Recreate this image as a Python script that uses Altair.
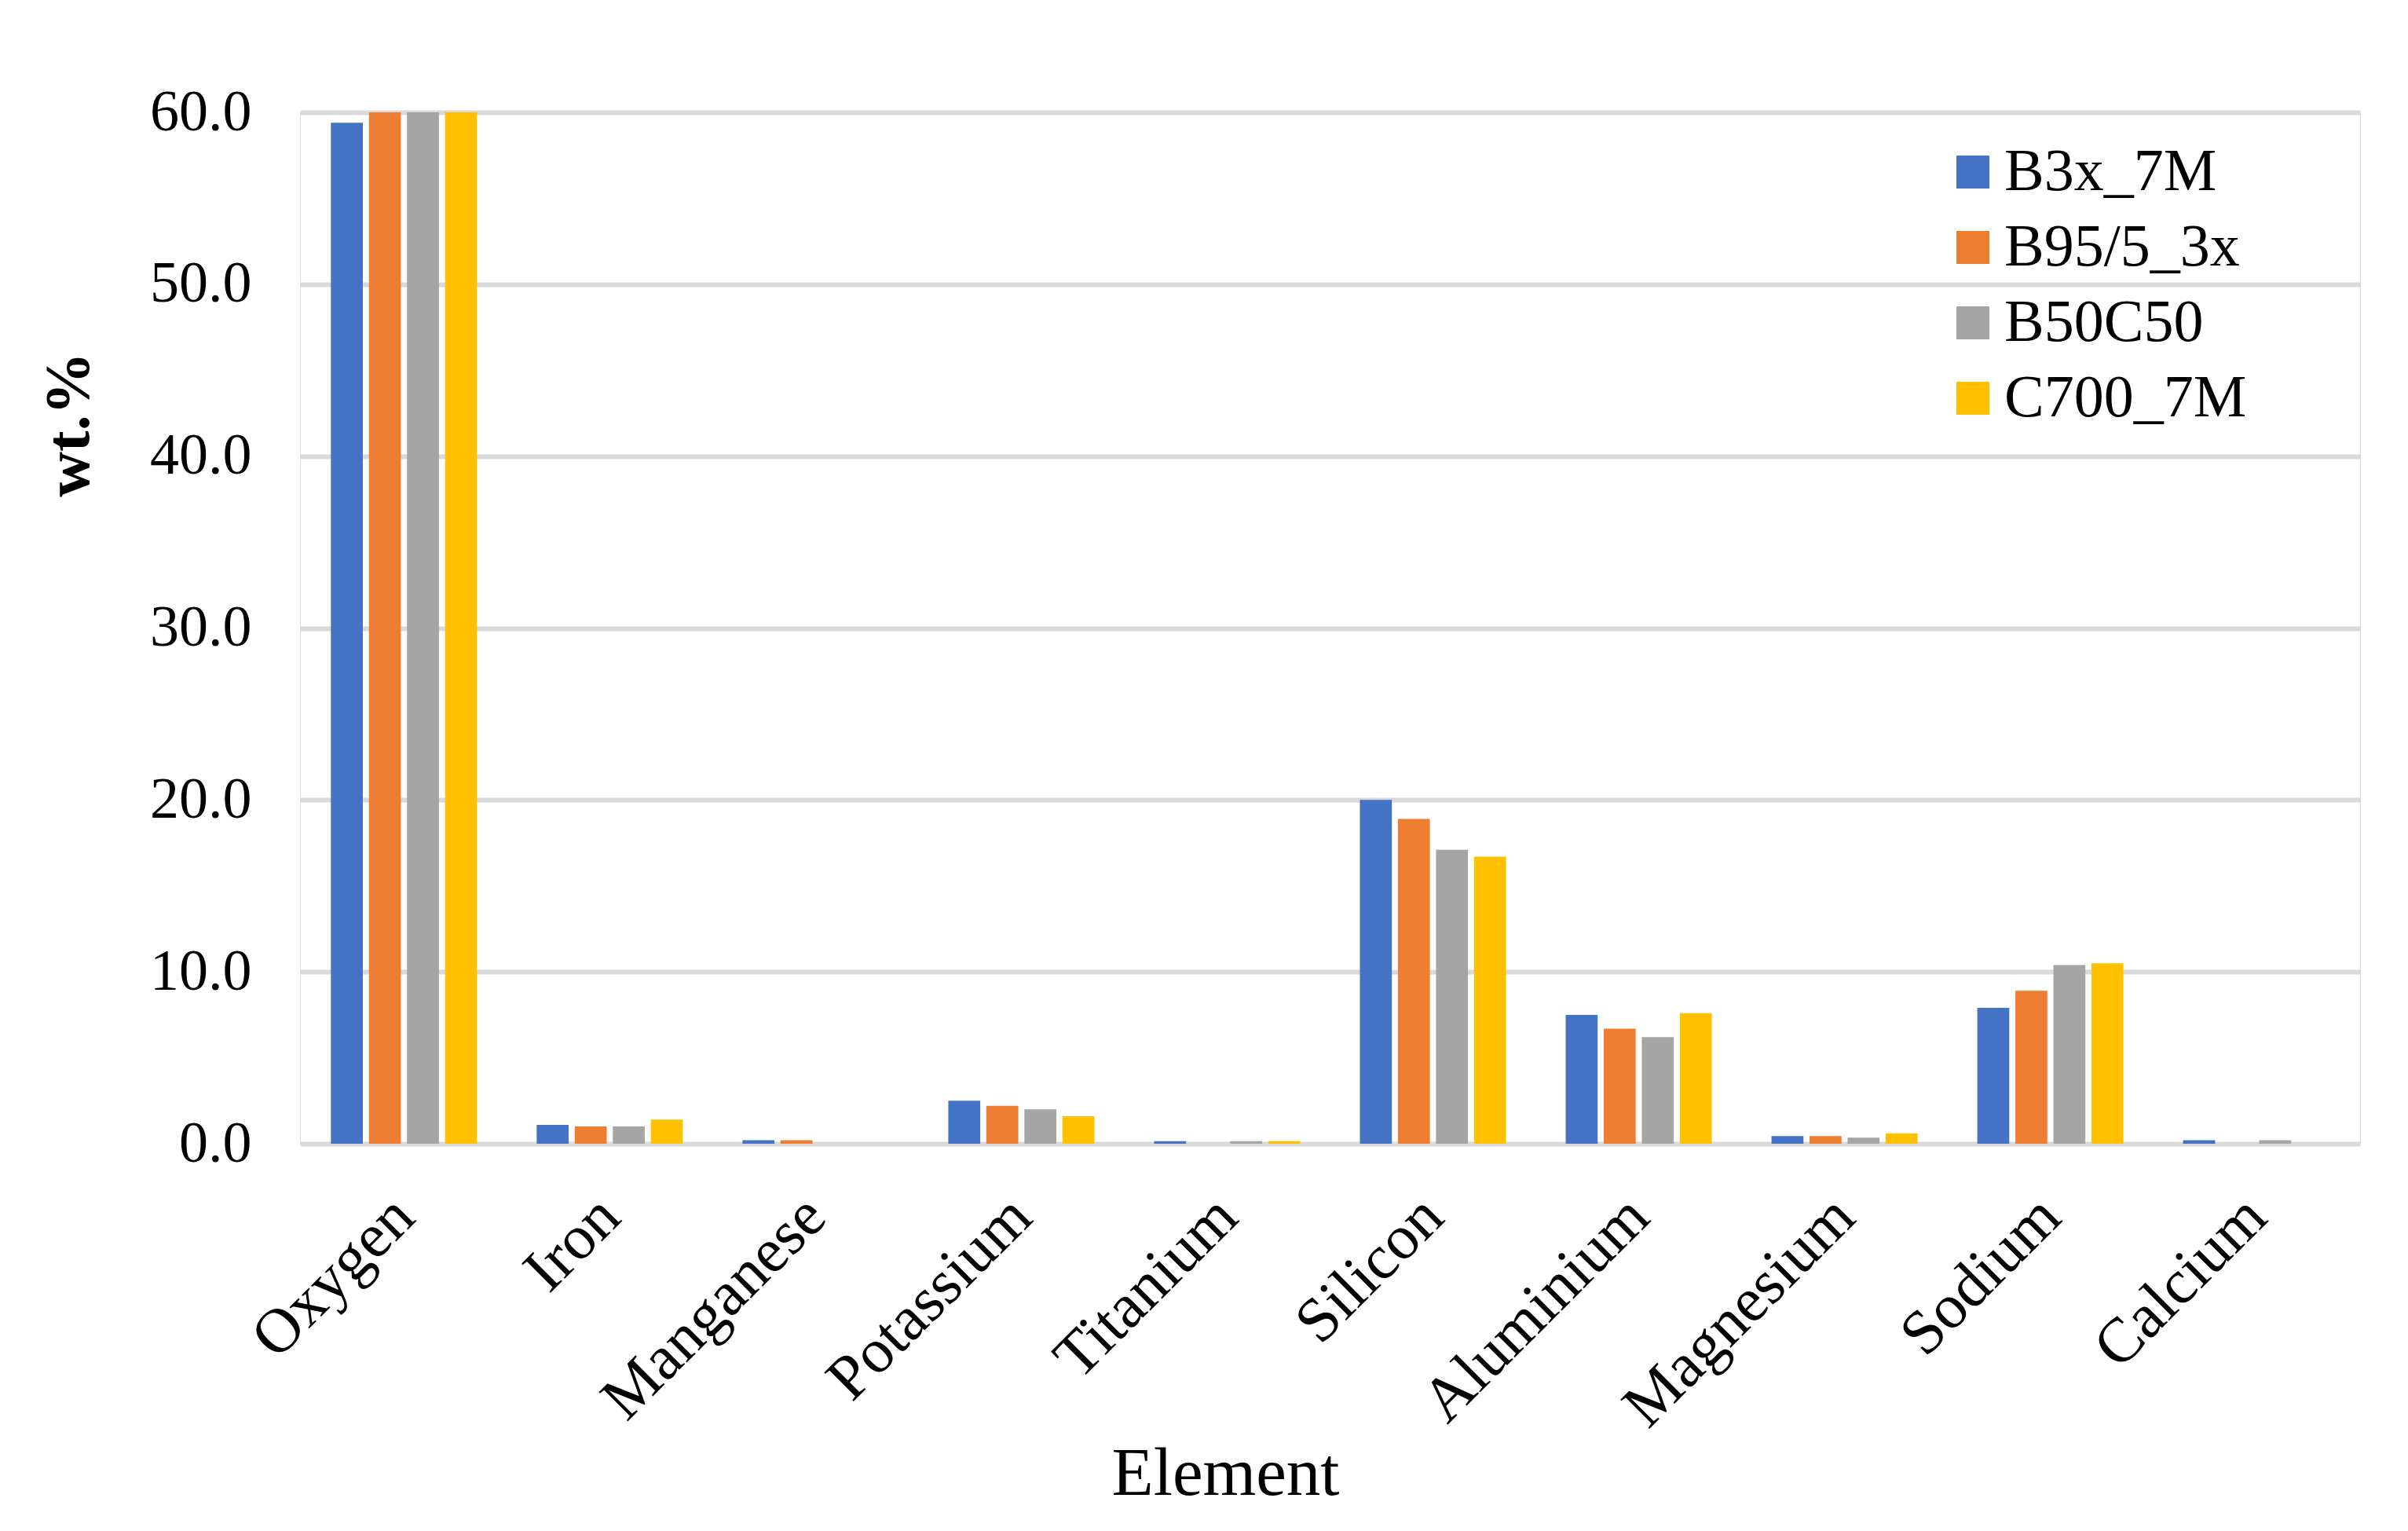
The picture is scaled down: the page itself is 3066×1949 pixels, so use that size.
import altair as alt
import pandas as pd

elements = ["Oxygen", "Iron", "Manganese", "Potassium", "Titanium",
            "Silicon", "Aluminium", "Magnesium", "Sodium", "Calcium"]
series = ["B3x_7M", "B95/5_3x", "B50C50", "C700_7M"]
b3x_7m = [59.4, 1.1, 0.2, 2.5, 0.15, 20.0, 7.5, 0.45, 7.9, 0.2]
b95_5_3x = [60.0, 1.0, 0.2, 2.2, 0.0, 18.9, 6.7, 0.45, 8.9, 0.0]
b50c50 = [60.0, 1.0, 0.0, 2.0, 0.15, 17.1, 6.2, 0.35, 10.4, 0.2]
c700_7m = [60.0, 1.4, 0.0, 1.6, 0.15, 16.7, 7.6, 0.6, 10.5, 0.0]
colors = ["#4472C4", "#ED7D31", "#A5A5A5", "#FFC000"]
y_ticks = [0, 10, 20, 30, 40, 50, 60]

rows = []
for s, vals in zip(series, [b3x_7m, b95_5_3x, b50c50, c700_7m]):
    for e, v in zip(elements, vals):
        rows.append({"Element": e, "Series": s, "Value": v})
df = pd.DataFrame(rows)

FONT = "Liberation Serif"

chart = alt.Chart(df).mark_bar(clip=True).encode(
    x=alt.X("Element:N", sort=elements,
            scale=alt.Scale(paddingInner=0.29, paddingOuter=0.15),
            axis=alt.Axis(title="Element", labelAngle=-45, labelAlign="right",
                          labelBaseline="middle", labelPadding=80, labelLimit=0,
                          labelFont=FONT, labelFontSize=80, labelColor="#000000",
                          titleFont=FONT, titleFontSize=87, titleFontWeight="normal",
                          titleColor="#000000", titleX=1178, titleY=446,
                          titleAnchor="start", titleAlign="center",
                          titleBaseline="alphabetic",
                          ticks=False, domain=False, grid=False)),
    xOffset=alt.XOffset("Series:N", sort=series,
                        scale=alt.Scale(paddingInner=0.16, paddingOuter=0)),
    y=alt.Y("Value:Q",
            scale=alt.Scale(domain=[0, 60], nice=False, zero=True),
            axis=alt.Axis(title="wt.%", values=y_ticks, format=".1f",
                          labelFont=FONT, labelFontSize=74, labelColor="#000000",
                          labelPadding=62, labelLimit=0, ticks=False, domain=False,
                          grid=True, gridColor="#D9D9D9", gridWidth=6,
                          titleFont=FONT, titleFontSize=80, titleFontWeight="bold",
                          titleColor="#000000", titleAngle=-90,
                          titleX=-294, titleY=397, titleAlign="center",
                          titleBaseline="middle")),
    color=alt.Color("Series:N", sort=series,
                    scale=alt.Scale(domain=series, range=colors),
                    legend=alt.Legend(title=None, orient="none",
                                      legendX=2092, legendY=38,
                                      symbolType="square", symbolSize=1764,
                                      symbolStrokeWidth=0, symbolOpacity=1,
                                      labelFont=FONT, labelFontSize=76,
                                      labelColor="#000000", labelOffset=2,
                                      labelLimit=0,
                                      rowPadding=20, padding=0)),
).properties(
    width=2623,
    height=1313,
    autosize=alt.AutoSizeParams(type="none"),
    padding={"left": 374, "top": 135, "right": 50, "bottom": 470},
).configure_view(stroke=None).configure(background="#FFFFFF")

chart.save("out.html", embed_options={"renderer": "svg", "actions": False})
